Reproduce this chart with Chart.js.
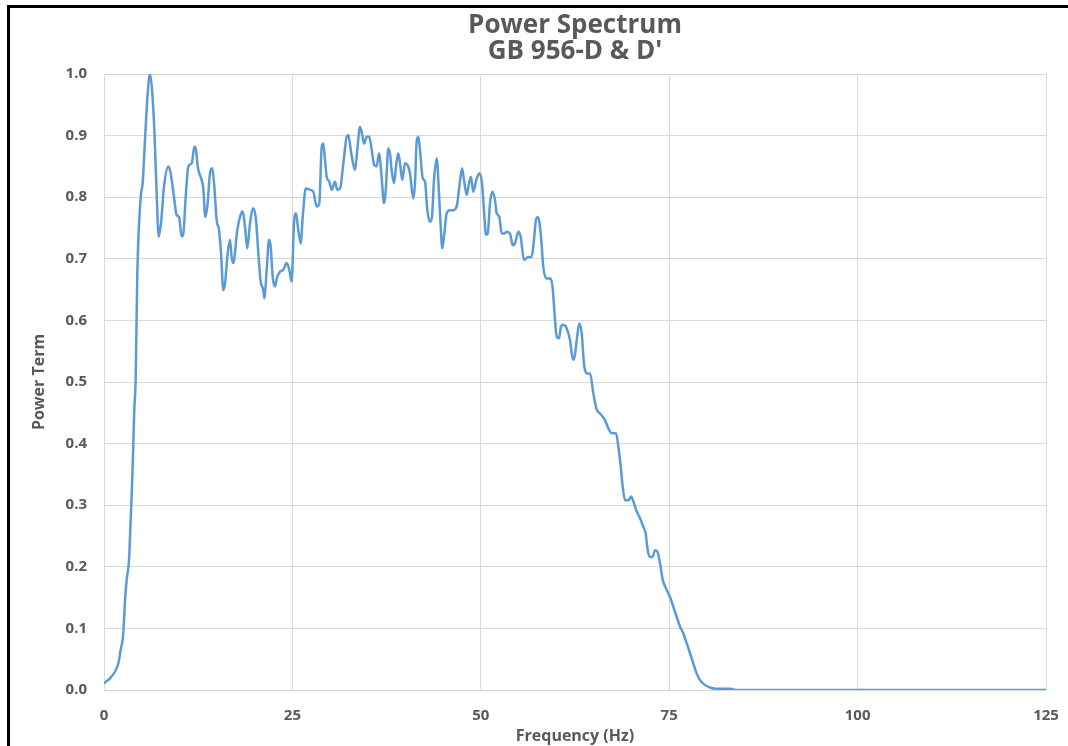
<!DOCTYPE html>
<html>
<head>
<meta charset="utf-8">
<title>Power Spectrum</title>
<script src="https://cdn.jsdelivr.net/npm/chart.js@4/dist/chart.umd.min.js"></script>
<style>
  html, body { margin: 0; padding: 0; background: #fff; }
  #wrap { position: relative; width: 1068px; height: 746px; overflow: hidden; }
  #frame {
    position: absolute; left: 7px; top: 5px; width: 1200px; height: 800px;
    border-left: 3px solid #000; border-top: 3px solid #000; pointer-events: none;
  }
</style>
</head>
<body>
<div id="wrap">
  <canvas id="canvas1" width="1068" height="746"></canvas>
  <div id="frame"></div>
</div>
<script>
// power spectrum of GB 956-D & D' - one smoothed line

const titleLines = ["Power Spectrum", "GB 956-D & D'"];
const xTitle = "Frequency (Hz)";
const yTitle = "Power Term";

// frequency (Hz)
const freq = [
  0, 0.13, 0.8, 1.46, 1.9, 2.21, 2.56, 2.79, 3.01, 3.32, 3.54, 3.76, 3.89, 4.02, 4.2, 4.42,
  4.87, 5.13, 5.44, 5.8, 6.1, 6.41, 6.68, 6.99, 7.26, 7.56, 7.96, 8.54, 8.85, 9.29, 9.64,
  9.95, 10.31, 10.53, 10.84, 11.19, 11.64, 11.99, 12.21, 12.43, 12.96, 13.18, 13.44, 13.71,
  14.07, 14.37, 14.64, 14.95, 15.26, 15.53, 15.83, 16.06, 16.41, 16.72, 16.94, 17.16, 17.69,
  18.05, 18.4, 18.71, 19.02, 19.37, 19.82, 20.17, 20.48, 20.79, 21.14, 21.27, 21.59, 21.9,
  22.12, 22.38, 22.69, 22.92, 23.35, 23.79, 24.24, 24.59, 24.9, 25.21, 25.48, 25.78, 26.1,
  26.37, 26.77, 27.34, 27.77, 28.22, 28.57, 28.89, 29.1, 29.33, 29.55, 29.9, 30.22, 30.65,
  30.96, 31.32, 31.76, 32.2, 32.42, 32.74, 33.0, 33.31, 33.61, 33.97, 34.19, 34.5, 34.86,
  35.2, 35.52, 35.87, 36.18, 36.49, 36.84, 37.15, 37.42, 37.72, 37.95, 38.17, 38.48, 38.75,
  39.05, 39.28, 39.58, 39.94, 40.29, 40.6, 41.04, 41.27, 41.49, 41.71, 41.93, 42.29, 42.6,
  42.9, 43.26, 43.52, 43.79, 44.15, 44.41, 44.68, 44.89, 45.16, 45.47, 45.91, 46.35, 46.8,
  47.15, 47.51, 47.77, 48.13, 48.35, 48.7, 49.0, 49.36, 49.8, 50.16, 50.42, 50.69, 50.92,
  51.22, 51.53, 51.89, 52.11, 52.46, 52.77, 53.12, 53.43, 53.87, 54.23, 54.54, 54.98, 55.29,
  55.73, 56.3, 56.75, 57.05, 57.32, 57.6, 57.99, 58.29, 58.74, 59.27, 59.54, 59.75, 60.07,
  60.38, 60.64, 60.95, 61.4, 61.84, 62.14, 62.37, 62.73, 63.07, 63.39, 63.69, 64.05, 64.49,
  64.93, 65.38, 65.82, 66.48, 66.92, 67.37, 67.94, 68.25, 68.57, 68.83, 69.14, 69.58, 69.94,
  70.24, 70.69, 71.13, 71.56, 71.88, 72.15, 72.45, 72.81, 73.11, 73.42, 73.78, 74.14, 74.58,
  75.11, 75.55, 75.99, 76.43, 76.87, 77.32, 77.76, 78.2, 78.64, 79.09, 79.75, 80.41, 81.07,
  83.07, 84, 125
];

// power term at each frequency
const power = [
  0.01, 0.012, 0.019, 0.03, 0.043, 0.065, 0.092, 0.146, 0.179, 0.211, 0.276, 0.346, 0.40, 0.455, 0.503, 0.676,
  0.80, 0.823, 0.893, 0.969, 1.0, 0.969, 0.909, 0.806, 0.736, 0.757, 0.817, 0.85, 0.839, 0.80, 0.771,
  0.768, 0.736, 0.741, 0.80, 0.85, 0.855, 0.882, 0.877, 0.85, 0.828, 0.814, 0.768, 0.785,
  0.839, 0.847, 0.817, 0.763, 0.747, 0.709, 0.649, 0.66, 0.709, 0.731, 0.703, 0.693, 0.747,
  0.768, 0.777, 0.752, 0.717, 0.757, 0.782, 0.763, 0.709, 0.663, 0.649, 0.636, 0.682, 0.731,
  0.72, 0.671, 0.655, 0.668, 0.679, 0.682, 0.693, 0.682, 0.663, 0.757, 0.774, 0.747, 0.725,
  0.768, 0.814, 0.812, 0.809, 0.785, 0.79, 0.882, 0.887, 0.86, 0.833, 0.825, 0.812, 0.825,
  0.812, 0.814, 0.855, 0.898, 0.901, 0.877, 0.858, 0.844, 0.877, 0.914, 0.906, 0.887, 0.898,
  0.898, 0.877, 0.852, 0.85, 0.871, 0.833, 0.79, 0.817, 0.879, 0.871, 0.844, 0.823, 0.85,
  0.871, 0.855, 0.828, 0.855, 0.852, 0.839, 0.798, 0.823, 0.89, 0.898, 0.877, 0.831, 0.825,
  0.779, 0.76, 0.768, 0.828, 0.863, 0.817, 0.752, 0.717, 0.741, 0.774, 0.779, 0.779, 0.785,
  0.817, 0.847, 0.828, 0.804, 0.817, 0.833, 0.809, 0.826, 0.839, 0.823, 0.779, 0.739, 0.741,
  0.79, 0.809, 0.795, 0.774, 0.768, 0.741, 0.741, 0.744, 0.741, 0.722, 0.725, 0.744, 0.736,
  0.698, 0.703, 0.703, 0.73, 0.763, 0.768, 0.736, 0.687, 0.668, 0.668, 0.652, 0.617, 0.574,
  0.571, 0.59, 0.593, 0.587, 0.568, 0.541, 0.536, 0.568, 0.595, 0.579, 0.53, 0.514, 0.514,
  0.482, 0.455, 0.449, 0.438, 0.425, 0.417, 0.417, 0.395, 0.363, 0.33, 0.308, 0.308, 0.314,
  0.306, 0.29, 0.279, 0.265, 0.254, 0.227, 0.216, 0.216, 0.227, 0.225, 0.206, 0.179, 0.165,
  0.151, 0.135, 0.119, 0.103, 0.092, 0.076, 0.06, 0.043, 0.027, 0.016, 0.008, 0.004, 0.002,
  0.002, 0, 0
];

const xTicks = [0, 25, 50, 75, 100, 125];

const points = freq.map((f, i) => ({ x: f, y: power[i] }));

const textGrey = "#595959";
const gridGrey = "#d9d9d9";
const fontFamily = "'Open Sans', Lato, sans-serif";

const ctx1 = document.getElementById("canvas1");

new Chart(ctx1, {
  type: "line",
  data: {
    datasets: [
      {
        label: yTitle,
        data: points,
        borderColor: "#5b9bd5",
        borderWidth: 2.5,
        pointRadius: 0,
        fill: false,
        cubicInterpolationMode: "monotone",
      },
    ],
  },
  options: {
    responsive: false,
    animation: false,
    layout: {
      padding: { left: 28, right: 22, top: 0, bottom: 0 },
    },
    plugins: {
      legend: { display: false },
      tooltip: { enabled: false },
      title: {
        display: true,
        text: titleLines,
        fullSize: false,
        color: textGrey,
        font: { family: fontFamily, size: 26, weight: "bold", lineHeight: 1 },
        padding: { top: 13, bottom: 9 },
      },
    },
    scales: {
      x: {
        type: "linear",
        min: 0,
        max: 125,
        afterBuildTicks: (scale) => {
          scale.ticks = xTicks.map((v) => ({ value: v }));
        },
        afterFit: (scale) => {
          scale.height = 56;
          scale.paddingLeft = 0;
          scale.paddingRight = 0;
        },
        grid: { color: gridGrey, drawTicks: false },
        border: { color: gridGrey },
        ticks: {
          color: textGrey,
          padding: 17,
          font: { family: fontFamily, size: 15, weight: "bold" },
          maxRotation: 0,
        },
        title: {
          display: true,
          text: xTitle,
          color: textGrey,
          font: { family: fontFamily, size: 16, weight: "bold" },
          padding: { top: 0, bottom: 0 },
        },
      },
      y: {
        min: 0,
        max: 1,
        afterFit: (scale) => {
          scale.width = 76;
        },
        grid: { color: gridGrey, drawTicks: false },
        border: { color: gridGrey },
        ticks: {
          stepSize: 0.1,
          color: textGrey,
          padding: 17,
          font: { family: fontFamily, size: 15, weight: "bold" },
          callback: (v) => v.toFixed(1),
        },
        title: {
          display: true,
          text: yTitle,
          color: textGrey,
          font: { family: fontFamily, size: 16, weight: "bold" },
          padding: { top: 2, bottom: 4 },
        },
      },
    },
  },
});
</script>
</body>
</html>
